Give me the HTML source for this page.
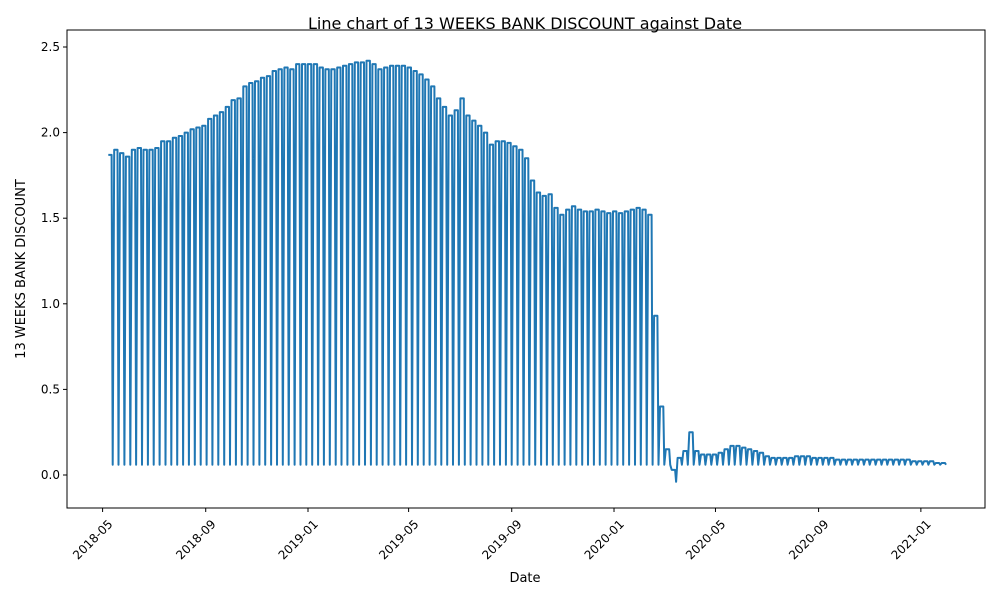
<!DOCTYPE html>
<html><head><meta charset="utf-8"><style>
body{margin:0;background:#fff;font-family:"Liberation Sans","DejaVu Sans",sans-serif}
svg text{font-family:"DejaVu Sans","Liberation Sans",sans-serif;font-size:12px;fill:#000}
</style></head><body>
<svg id="chart" width="1000" height="600" xmlns="http://www.w3.org/2000/svg">
<rect width="1000" height="600" fill="#fff"/>
<text x="525" y="29" text-anchor="middle" style="font-size:16px">Line chart of 13 WEEKS BANK DISCOUNT against Date</text>
<g id="plot"></g>
<rect x="67" y="30" width="918" height="478" fill="none" stroke="#000" stroke-width="1"/>
<text x="525" y="582" text-anchor="middle" style="font-size:13px">Date</text>
<text transform="translate(25,269) rotate(-90)" text-anchor="middle" style="font-size:13px">13 WEEKS BANK DISCOUNT</text>
</svg>
<script>
const startDate = "2018-05-07";
const weeklyLevels = [1.87,1.90,1.88,1.86,1.90,1.91,1.90,1.90,1.91,1.95,1.95,1.97,1.98,2.00,2.02,2.03,2.04,2.08,2.10,2.12,2.15,2.19,2.20,2.27,2.29,2.30,2.32,2.33,2.36,2.37,2.38,2.37,2.40,2.40,2.40,2.40,2.38,2.37,2.37,2.38,2.39,2.40,2.41,2.41,2.42,2.40,2.37,2.38,2.39,2.39,2.39,2.38,2.36,2.34,2.31,2.27,2.20,2.15,2.10,2.13,2.20,2.10,2.07,2.04,2.00,1.93,1.95,1.95,1.94,1.92,1.90,1.85,1.72,1.65,1.63,1.64,1.56,1.52,1.55,1.57,1.55,1.54,1.54,1.55,1.54,1.53,1.54,1.53,1.54,1.55,1.56,1.55,1.52,0.93,0.40,0.15,0.03,0.10,0.14,0.25,0.14,0.12,0.12,0.12,0.13,0.15,0.17,0.17,0.16,0.15,0.14,0.13,0.11,0.10,0.10,0.10,0.10,0.11,0.11,0.11,0.10,0.10,0.10,0.10,0.09,0.09,0.09,0.09,0.09,0.09,0.09,0.09,0.09,0.09,0.09,0.09,0.09,0.08,0.08,0.08,0.08,0.07,0.07];
const weeklyDips = [0.06];
const yTicks = [0.0,0.5,1.0,1.5,2.0,2.5];
const xTickLabels = ["2018-05","2018-09","2019-01","2019-05","2019-09","2020-01","2020-05","2020-09","2021-01"];

const NS="http://www.w3.org/2000/svg";
const t0 = Date.parse("2019-01-01");
const day = 86400000;
function xScale(ms){return 308 + (ms - t0)/day*0.8384;}
function yScale(v){return 475 - v*171.2;}
const svg=document.getElementById('chart');
const plot=document.getElementById('plot');

yTicks.forEach(v=>{
  const y=yScale(v);
  const l=document.createElementNS(NS,'line');
  l.setAttribute('x1',63);l.setAttribute('x2',67);l.setAttribute('y1',y);l.setAttribute('y2',y);l.setAttribute('stroke','#000');
  
  
  svg.appendChild(l);
  const t=document.createElementNS(NS,'text');
  t.setAttribute('x',60);t.setAttribute('y',y+4);t.setAttribute('text-anchor','end');
  t.textContent=v.toFixed(1);
  
  
  svg.appendChild(t);
});
xTickLabels.forEach(s=>{
  const x=xScale(Date.parse(s+"-01"));
  const l=document.createElementNS(NS,'line');
  l.setAttribute('x1',x);l.setAttribute('x2',x);l.setAttribute('y1',508);l.setAttribute('y2',512);l.setAttribute('stroke','#000');
  
  
  svg.appendChild(l);
  const t=document.createElementNS(NS,'text');
  t.setAttribute('transform',`translate(${x+4},${518}) rotate(-45)`);
  t.setAttribute('text-anchor','end');t.setAttribute('dy','0.8em');
  t.textContent=s;
  
  
  svg.appendChild(t);
});
const s0=Date.parse(startDate);
let pts=[];
weeklyLevels.forEach((v,i)=>{
  const d=s0+i*7*day;
  const dip=weeklyDips[i%weeklyDips.length];
  pts.push([xScale(d+0.8*day),yScale(v)]);
  pts.push([xScale(d+4.8*day),yScale(v)]);
  if(i===96){pts.push([xScale(d+6*day),yScale(-0.04)]);}
  else pts.push([xScale(d+6*day),yScale(Math.min(dip,v))]);
});
const p=document.createElementNS(NS,'polyline');
p.setAttribute('points',pts.map(a=>a[0].toFixed(1)+','+a[1].toFixed(1)).join(' '));
p.setAttribute('fill','none');p.setAttribute('stroke','#1f77b4');p.setAttribute('stroke-width','2');p.setAttribute('stroke-linejoin','round');


plot.appendChild(p);
</script>
</body></html>
